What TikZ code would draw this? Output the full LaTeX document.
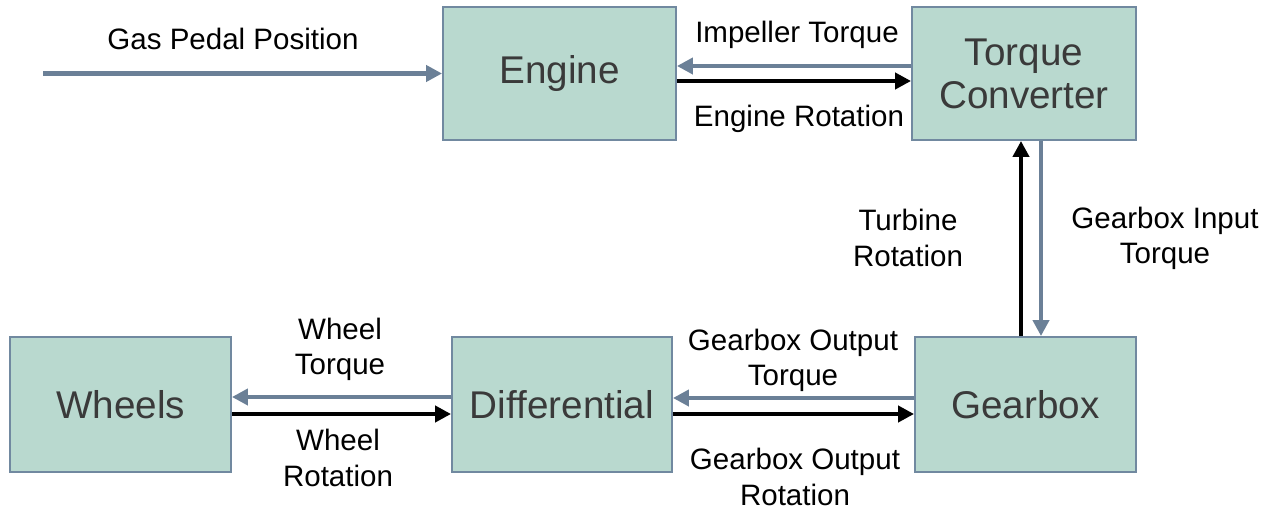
\documentclass[tikz,border=0pt]{standalone}
\usepackage{fontspec}
\setmainfont{Liberation Sans}
\usetikzlibrary{arrows.meta}

\definecolor{boxfill}{HTML}{B9D9CF}
\definecolor{boxline}{HTML}{7189A0}
\definecolor{torqueline}{HTML}{6B8097}
\definecolor{boxtext}{HTML}{3A3A3A}

\tikzset{
  block/.style={draw=boxline,line width=1.1pt,fill=boxfill,text=boxtext,
    font=\fontsize{22}{24.5}\selectfont,align=center,inner sep=0pt},
  torque/.style={torqueline,line width=2.3pt,-{Triangle[length=9pt,width=9pt]}},
  rotation/.style={black,line width=2.3pt,-{Triangle[length=9pt,width=9pt]}},
  sig/.style={font=\fontsize{16.8}{20}\selectfont,align=center,inner sep=0pt}
}

\begin{document}
\begin{tikzpicture}[x=0.02cm,y=-0.02cm]
\useasboundingbox (0,0) rectangle (1276,510);

% blocks
\node[block,minimum width=4.66cm,minimum height=2.66cm] (engine) at (559.5,73.5) {Engine};
\node[block,minimum width=4.48cm,minimum height=2.66cm] (conv) at (1024,73.5) {Torque\\Converter};
\node[block,minimum width=4.42cm,minimum height=2.7cm] (gear) at (1025.5,404.5) {Gearbox};
\node[block,minimum width=4.4cm,minimum height=2.7cm] (diff) at (562,404.5) {Differential};
\node[block,minimum width=4.42cm,minimum height=2.7cm] (wheels) at (120.5,404.5) {Wheels};

% input
\coordinate (pedal) at (43,73.5);
\draw[torque] (pedal) -- (engine.west);
\node[sig] (pedallbl) at (233,39) {Gas Pedal Position};

% engine <-> converter
\draw[torque] ([yshift=0.15cm]conv.west) -- ([yshift=0.15cm]engine.east);
\draw[rotation] ([yshift=-0.15cm]engine.east) -- ([yshift=-0.15cm]conv.west);
\node[sig] (impeller) at (797,35) {Impeller Torque};
\node[sig] (engrot) at (799,119) {Engine Rotation};

% converter <-> gearbox
\draw[rotation] ([xshift=-0.09cm]gear.north) -- ([xshift=-0.09cm]gear.north |- conv.south);
\draw[torque] ([xshift=0.31cm]gear.north |- conv.south) -- ([xshift=0.31cm]gear.north);
\node[sig] (turbine) at (908,238) {Turbine\\Rotation};
\node[sig] (gbin) at (1165,238) {Gearbox Input\\Torque};

% gearbox <-> differential
\draw[torque] ([yshift=0.13cm]gear.west) -- ([yshift=0.13cm]diff.east);
\draw[rotation] ([yshift=-0.19cm]diff.east) -- ([yshift=-0.19cm]gear.west);
\node[sig] (gbouttq) at (793,360) {Gearbox Output\\Torque};
\node[sig] (gboutrot) at (795,477) {Gearbox Output\\Rotation};

% differential <-> wheels
\draw[torque] ([yshift=0.15cm]diff.west) -- ([yshift=0.15cm]wheels.east);
\draw[rotation] ([yshift=-0.19cm]wheels.east) -- ([yshift=-0.19cm]diff.west);
\node[sig] (whltq) at (340,349) {Wheel\\Torque};
\node[sig] (whlrot) at (338,458) {Wheel\\Rotation};
\end{tikzpicture}
\end{document}
